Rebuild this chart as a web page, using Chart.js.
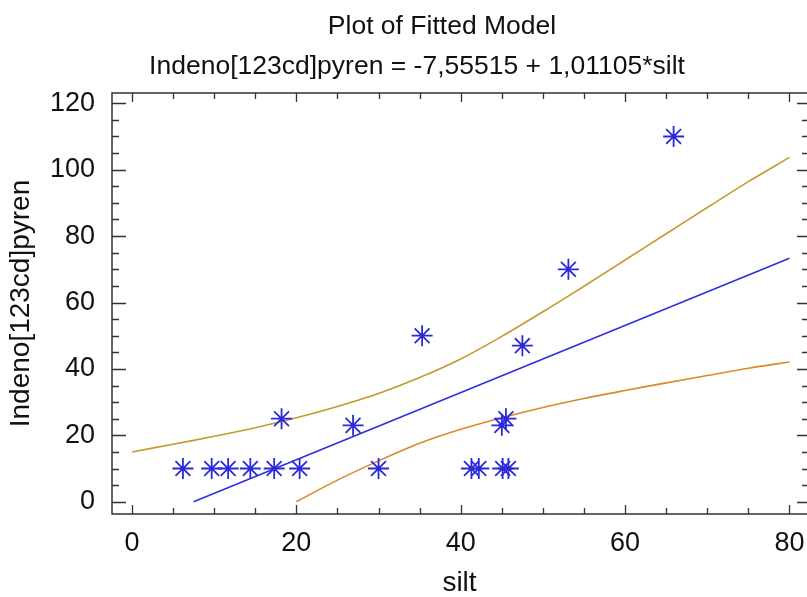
<!DOCTYPE html>
<html>
<head>
<meta charset="utf-8">
<title>Plot of Fitted Model</title>
<script src="https://cdn.jsdelivr.net/npm/chart.js@4.4.1/dist/chart.umd.min.js"></script>
<style>
  html, body { margin: 0; padding: 0; background: #fff; }
  #wrap { width: 807px; height: 597px; }
</style>
</head>
<body>
<div id="wrap"><canvas id="fit-chart" width="807" height="597"></canvas></div>
<script>
const TITLE = 'Plot of Fitted Model';
const SUBTITLE = 'Indeno[123cd]pyren = -7,55515 + 1,01105*silt';
const X_LABEL = 'silt';
const Y_LABEL = 'Indeno[123cd]pyren';

// observed samples
const siltObs = [6.2, 9.7, 11.7, 14.4, 17.3, 20.4, 18.2, 26.9, 30.0, 35.3, 41.3, 42.2, 45.1, 45.8, 45.0, 45.5, 47.5, 53.1, 65.9];
const indenoObs = [10, 10, 10, 10, 10, 10, 25, 23, 10, 50, 10, 10, 10, 10, 23, 25, 47, 70, 110];

// fitted line
const fitSilt = [7.5, 80];
const fitIndeno = [0, 73.3];

// confidence limits
const upperSilt = [0, 5, 10, 15, 20, 25, 30, 35, 40, 45, 50, 55, 60, 65, 70, 75, 80];
const upperIndeno = [15.0, 17.3, 19.7, 22.3, 25.3, 28.7, 32.6, 37.4, 43.0, 49.8, 57.2, 64.9, 72.8, 80.7, 88.6, 96.4, 103.7];
const lowerSilt = [20, 25, 30, 35, 40, 45, 50, 55, 60, 65, 70, 75, 80];
const lowerIndeno = [0.0, 6.5, 12.3, 17.6, 21.8, 25.3, 28.4, 31.1, 33.5, 35.8, 38.0, 40.2, 42.1];

const xTicks = [0, 20, 40, 60, 80];
const yTicks = [0, 20, 40, 60, 80, 100, 120];

const X_MIN = -2.43, X_MAX = 82.13;
const Y_MIN = -3.7, Y_MAX = 123.1;
const MINOR_STEP = 5;

const FONT = "'Liberation Sans', Arial, sans-serif";
const INK = '#111';
const FRAME = '#333';

const toPoints = (xs, ys) => xs.map((x, i) => ({ x: x, y: ys[i] }));

const titleBlock = {
    id: 'titleBlock',
    afterDraw(chart) {
        const ctx = chart.ctx;
        ctx.save();
        ctx.fillStyle = INK;
        ctx.textAlign = 'center';
        ctx.textBaseline = 'alphabetic';
        ctx.font = `26.5px ${FONT}`;
        ctx.fillText(TITLE, 442, 34);
        ctx.fillText(SUBTITLE, 417, 74);
        ctx.restore();
    }
};

const frameTicks = {
    id: 'frameTicks',
    beforeDatasetsDraw(chart) {
        const { ctx, chartArea: a, scales: { x, y } } = chart;
        ctx.save();
        ctx.strokeStyle = FRAME;
        ctx.lineWidth = 1.5;
        ctx.beginPath();
        ctx.moveTo(a.right + 2, a.top);
        ctx.lineTo(a.left, a.top);
        ctx.lineTo(a.left, a.bottom);
        ctx.lineTo(a.right + 2, a.bottom);
        ctx.stroke();

        ctx.lineWidth = 1.3;
        ctx.beginPath();
        for (let v = 0; v <= x.max; v += MINOR_STEP) {
            const px = Math.round(x.getPixelForValue(v)) + 0.5;
            const major = v % 20 === 0;
            ctx.moveTo(px, a.bottom);
            ctx.lineTo(px, a.bottom - (major ? 9 : 6));
            ctx.moveTo(px, a.top);
            ctx.lineTo(px, a.top + (major ? 9 : 6));
        }
        for (let v = 0; v <= y.max; v += MINOR_STEP) {
            const py = Math.round(y.getPixelForValue(v)) + 0.5;
            const major = v % 20 === 0;
            ctx.moveTo(a.left, py);
            ctx.lineTo(a.left + (major ? 14 : 7), py);
            ctx.moveTo(a.right, py);
            ctx.lineTo(a.right - (major ? 10 : 5), py);
        }
        ctx.stroke();
        ctx.restore();
    }
};

const ctx = document.getElementById('fit-chart').getContext('2d');
new Chart(ctx, {
    type: 'scatter',
    data: {
        datasets: [
            {
                label: 'observed',
                data: toPoints(siltObs, indenoObs),
                pointStyle: 'star',
                pointRadius: 10.5,
                pointBorderWidth: 1.8,
                borderColor: '#2a2ad8',
                backgroundColor: '#2a2ad8',
                showLine: false
            },
            {
                label: 'fit',
                data: toPoints(fitSilt, fitIndeno),
                showLine: true,
                pointRadius: 0,
                borderColor: '#2f2fe0',
                borderWidth: 1.6
            },
            {
                label: 'upper',
                data: toPoints(upperSilt, upperIndeno),
                showLine: true,
                pointRadius: 0,
                tension: 0.3,
                borderColor: '#c49a2c',
                borderWidth: 1.6
            },
            {
                label: 'lower',
                data: toPoints(lowerSilt, lowerIndeno),
                showLine: true,
                pointRadius: 0,
                tension: 0.3,
                borderColor: '#da8a2a',
                borderWidth: 1.6
            }
        ]
    },
    options: {
        responsive: false,
        animation: false,
        devicePixelRatio: 1,
        layout: { autoPadding: false, padding: { top: 93, right: 0, bottom: 0, left: 0 } },
        plugins: {
            legend: { display: false },
            tooltip: { enabled: false }
        },
        scales: {
            x: {
                type: 'linear',
                position: 'bottom',
                min: X_MIN,
                max: X_MAX,
                afterBuildTicks: s => { s.ticks = xTicks.map(v => ({ value: v })); },
                afterFit: s => { s.height = 83; s.paddingLeft = 0; s.paddingRight = 0; },
                grid: { display: false, drawTicks: false },
                border: { display: false },
                ticks: {
                    color: INK,
                    padding: 16,
                    maxRotation: 0,
                    font: { family: FONT, size: 27, lineHeight: 1 }
                },
                title: {
                    display: true,
                    text: X_LABEL,
                    color: INK,
                    padding: { top: 0, bottom: 0 },
                    font: { family: FONT, size: 28, lineHeight: 1 }
                }
            },
            y: {
                type: 'linear',
                min: Y_MIN,
                max: Y_MAX,
                afterBuildTicks: s => { s.ticks = yTicks.map(v => ({ value: v })); },
                afterFit: s => { s.width = 112; s.paddingTop = 0; s.paddingBottom = 0; },
                grid: { display: false, drawTicks: false },
                border: { display: false },
                ticks: {
                    color: INK,
                    padding: 17,
                    font: { family: FONT, size: 27, lineHeight: 1 }
                },
                title: {
                    display: true,
                    text: Y_LABEL,
                    color: INK,
                    padding: { top: 7, bottom: 0 },
                    font: { family: FONT, size: 28, lineHeight: 1 }
                }
            }
        }
    },
    plugins: [frameTicks, titleBlock]
});
</script>
</body>
</html>
